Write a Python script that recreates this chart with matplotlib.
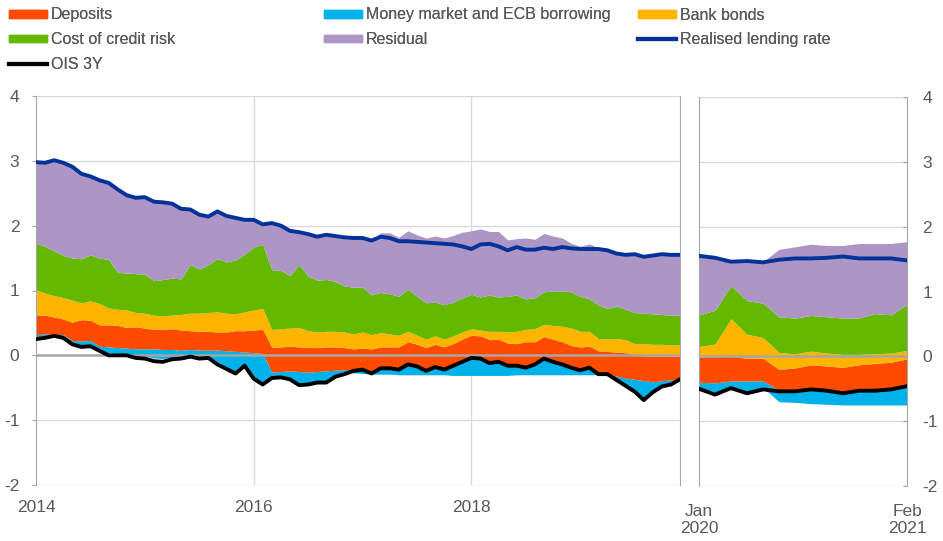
import numpy as np
import matplotlib
matplotlib.use("Agg")
import matplotlib.pyplot as plt
from matplotlib.patches import Patch
from matplotlib.lines import Line2D

plt.rcParams["font.family"] = ["Liberation Sans", "DejaVu Sans"]
plt.rcParams["axes.unicode_minus"] = False

# --- monthly data, Jan 2014 - Dec 2019 (left panel) ---
# the stack starts from stack_floor and the components are piled on top in this order:
# money market, deposits, bank bonds, cost of credit risk, residual
stack_floor = [0.28, 0.29, 0.30, 0.30, 0.17, 0.15, 0.15, 0.07, 0.04, 0.03, 0.02, 0.00,
               -0.01, -0.04, -0.05, -0.03, -0.02, 0.00, -0.02, -0.01, -0.10, -0.18, -0.25, -0.13,
               -0.33, -0.42, -0.32, -0.31, -0.34, -0.43, -0.42, -0.39, -0.39, -0.30, -0.27, -0.27,
               -0.28, -0.29, -0.29, -0.29, -0.30, -0.30, -0.30, -0.30, -0.30, -0.30, -0.31, -0.31,
               -0.31, -0.31, -0.31, -0.31, -0.31, -0.30, -0.30, -0.30, -0.30, -0.30, -0.30, -0.30,
               -0.30, -0.30, -0.30, -0.30, -0.36, -0.45, -0.54, -0.67, -0.55, -0.46, -0.43, -0.38]
money_market = [0.04, 0.04, 0.02, 0.02, 0.06, 0.07, 0.08, 0.07, 0.09, 0.09, 0.09, 0.10,
                0.11, 0.14, 0.14, 0.12, 0.10, 0.09, 0.10, 0.09, 0.18, 0.25, 0.31, 0.18,
                0.37, 0.45, 0.06, 0.06, 0.10, 0.18, 0.16, 0.14, 0.15, 0.07, 0.05, 0.05,
                0.06, 0.05, 0.10, 0.09, 0.08, 0.15, 0.12, 0.07, 0.12, 0.09, 0.15, 0.22,
                0.27, 0.26, 0.20, 0.21, 0.16, 0.15, 0.13, 0.16, 0.24, 0.20, 0.16, 0.11,
                0.07, 0.11, 0.02, 0.02, 0.04, 0.10, 0.17, 0.28, 0.14, 0.07, 0.05, 0.01]
deposits = [0.30, 0.29, 0.27, 0.24, 0.28, 0.33, 0.31, 0.33, 0.34, 0.34, 0.32, 0.34,
            0.32, 0.30, 0.31, 0.32, 0.31, 0.29, 0.29, 0.29, 0.28, 0.29, 0.32, 0.33,
            0.35, 0.37, 0.38, 0.38, 0.38, 0.38, 0.38, 0.37, 0.37, 0.36, 0.34, 0.32,
            0.33, 0.34, 0.32, 0.33, 0.35, 0.36, 0.35, 0.35, 0.35, 0.34, 0.34, 0.34,
            0.35, 0.35, 0.35, 0.35, 0.34, 0.33, 0.38, 0.35, 0.35, 0.35, 0.35, 0.34,
            0.36, 0.33, 0.35, 0.34, 0.37, 0.39, 0.38, 0.38, 0.40, 0.38, 0.37, 0.36]
bank_bonds = [0.39, 0.34, 0.33, 0.33, 0.34, 0.26, 0.30, 0.33, 0.26, 0.25, 0.27, 0.22,
              0.23, 0.22, 0.21, 0.21, 0.24, 0.27, 0.28, 0.29, 0.31, 0.29, 0.26, 0.29,
              0.31, 0.32, 0.28, 0.28, 0.28, 0.30, 0.26, 0.24, 0.24, 0.24, 0.24, 0.23,
              0.25, 0.22, 0.22, 0.20, 0.18, 0.16, 0.14, 0.13, 0.13, 0.12, 0.12, 0.11,
              0.10, 0.09, 0.13, 0.12, 0.17, 0.19, 0.19, 0.20, 0.19, 0.21, 0.24, 0.27,
              0.24, 0.23, 0.19, 0.19, 0.21, 0.20, 0.17, 0.19, 0.18, 0.18, 0.17, 0.17]
credit_risk = [0.72, 0.72, 0.69, 0.65, 0.65, 0.68, 0.71, 0.70, 0.75, 0.57, 0.57, 0.60,
               0.60, 0.53, 0.56, 0.57, 0.55, 0.75, 0.68, 0.74, 0.82, 0.79, 0.83, 0.89,
               0.97, 0.99, 0.92, 0.90, 0.81, 0.97, 0.84, 0.80, 0.80, 0.77, 0.71, 0.72,
               0.69, 0.61, 0.62, 0.62, 0.60, 0.65, 0.60, 0.56, 0.52, 0.53, 0.52, 0.53,
               0.53, 0.51, 0.56, 0.53, 0.55, 0.56, 0.47, 0.48, 0.50, 0.53, 0.54, 0.56,
               0.54, 0.50, 0.52, 0.47, 0.50, 0.47, 0.48, 0.47, 0.47, 0.46, 0.46, 0.46]
residual = [1.25, 1.29, 1.40, 1.43, 1.41, 1.31, 1.21, 1.20, 1.18, 1.28, 1.20, 1.17,
            1.19, 1.22, 1.19, 1.15, 1.08, 0.85, 0.84, 0.74, 0.73, 0.71, 0.65, 0.53,
            0.42, 0.31, 0.72, 0.69, 0.69, 0.50, 0.65, 0.67, 0.69, 0.70, 0.75, 0.76,
            0.76, 0.84, 0.92, 0.94, 0.91, 0.90, 0.95, 1.00, 1.02, 1.03, 1.03, 1.01,
            0.98, 1.05, 0.98, 1.01, 0.87, 0.87, 0.94, 0.90, 0.90, 0.85, 0.82, 0.75,
            0.77, 0.85, 0.88, 0.90, 0.81, 0.84, 0.90, 0.87, 0.90, 0.93, 0.93, 0.93]
lending_rate = [2.98, 2.97, 3.01, 2.97, 2.91, 2.80, 2.76, 2.70, 2.66, 2.56, 2.47, 2.43,
                2.44, 2.37, 2.36, 2.34, 2.26, 2.25, 2.17, 2.14, 2.22, 2.15, 2.12, 2.09,
                2.09, 2.02, 2.04, 2.00, 1.92, 1.90, 1.87, 1.83, 1.86, 1.84, 1.82, 1.81,
                1.81, 1.77, 1.83, 1.81, 1.76, 1.76, 1.75, 1.74, 1.73, 1.72, 1.71, 1.68,
                1.64, 1.71, 1.72, 1.68, 1.62, 1.67, 1.63, 1.63, 1.66, 1.64, 1.67, 1.65,
                1.64, 1.64, 1.64, 1.62, 1.57, 1.55, 1.56, 1.52, 1.54, 1.56, 1.55, 1.55]
ois_3y = [0.25, 0.27, 0.30, 0.27, 0.17, 0.13, 0.14, 0.07, 0.00, 0.00, 0.00, -0.04,
          -0.05, -0.09, -0.10, -0.06, -0.05, -0.02, -0.05, -0.04, -0.14, -0.21, -0.28, -0.16,
          -0.36, -0.45, -0.35, -0.34, -0.37, -0.46, -0.45, -0.42, -0.42, -0.33, -0.29, -0.24,
          -0.22, -0.28, -0.20, -0.20, -0.22, -0.14, -0.17, -0.24, -0.18, -0.22, -0.16, -0.10,
          -0.04, -0.05, -0.12, -0.10, -0.16, -0.16, -0.19, -0.14, -0.05, -0.10, -0.14, -0.19,
          -0.23, -0.19, -0.29, -0.29, -0.38, -0.47, -0.56, -0.69, -0.57, -0.48, -0.45, -0.37]

# --- monthly data, Jan 2020 - Feb 2021 (right panel) ---
stack_floor_20 = [-0.47, -0.55, -0.46, -0.54, -0.48, -0.70, -0.71, -0.73, -0.74, -0.75, -0.75, -0.75, -0.75, -0.75]
money_market_20 = [0.07, 0.14, 0.08, 0.16, 0.10, 0.18, 0.18, 0.23, 0.21, 0.20, 0.22, 0.22, 0.23, 0.29]
deposits_20 = [0.39, 0.40, 0.38, 0.35, 0.35, 0.32, 0.35, 0.37, 0.38, 0.38, 0.40, 0.42, 0.43, 0.42]
bank_bonds_20 = [0.16, 0.20, 0.58, 0.37, 0.32, 0.26, 0.22, 0.21, 0.20, 0.20, 0.16, 0.15, 0.14, 0.13]
credit_risk_20 = [0.49, 0.52, 0.51, 0.52, 0.53, 0.55, 0.55, 0.55, 0.56, 0.56, 0.56, 0.62, 0.59, 0.71]
residual_20 = [0.91, 0.81, 0.37, 0.61, 0.64, 1.04, 1.10, 1.10, 1.10, 1.12, 1.15, 1.08, 1.10, 0.97]
lending_rate_20 = [1.55, 1.52, 1.46, 1.47, 1.45, 1.49, 1.51, 1.51, 1.52, 1.54, 1.51, 1.51, 1.51, 1.48]
ois_3y_20 = [-0.50, -0.59, -0.49, -0.57, -0.51, -0.54, -0.54, -0.51, -0.53, -0.57, -0.53, -0.53, -0.51, -0.46]

left_ticks = [0, 24, 48]
left_ticklabels = ["2014", "2016", "2018"]
right_ticks = [0, 13]
right_ticklabels = ["Jan\n2020", "Feb\n2021"]

# colours
c_dep = "#FF4B00"
c_mm = "#00B1EA"
c_bonds = "#FFB400"
c_credit = "#65B800"
c_resid = "#AD95C6"
c_rate = "#003299"
c_ois = "#000000"
grid_col = "#D9D9D9"
axis_col = "#A6A6A6"
text_col = "#595959"


def draw_panel(ax, floor, layers, rate, ois):
    x = np.arange(len(floor))
    lower = np.array(floor, dtype=float)
    for values, col in layers:
        upper = lower + np.array(values)
        ax.fill_between(x, lower, upper, color=col, lw=0, zorder=2)
        lower = upper
    ax.axhline(0, color=axis_col, lw=1.8, zorder=3)
    ax.plot(x, rate, color=c_rate, lw=2.8, zorder=4, solid_joinstyle="round")
    ax.plot(x, ois, color=c_ois, lw=2.8, zorder=4, solid_joinstyle="round")
    ax.set_ylim(-2, 4)
    ax.set_yticks(range(-2, 5))
    ax.set_xlim(0, len(floor) - 1)
    ax.yaxis.grid(True, color=grid_col, lw=1)
    ax.set_axisbelow(True)
    for side in ["top", "bottom"]:
        ax.spines[side].set_visible(False)
    for side in ["left", "right"]:
        ax.spines[side].set_color(axis_col)
    ax.tick_params(axis="x", length=0, labelsize=12.5, labelcolor=text_col)
    ax.tick_params(axis="y", length=3, color=axis_col, labelsize=12.5, labelcolor=text_col)


fig = plt.figure(figsize=(9.43, 5.41), dpi=100)
ax1 = fig.add_axes([36 / 943, 56 / 541, 644 / 943, 389 / 541])
ax2 = fig.add_axes([699 / 943, 55 / 541, 208 / 943, 389 / 541])

draw_panel(ax1, stack_floor,
           [(money_market, c_mm), (deposits, c_dep), (bank_bonds, c_bonds),
            (credit_risk, c_credit), (residual, c_resid)],
           lending_rate, ois_3y)
draw_panel(ax2, stack_floor_20,
           [(money_market_20, c_mm), (deposits_20, c_dep), (bank_bonds_20, c_bonds),
            (credit_risk_20, c_credit), (residual_20, c_resid)],
           lending_rate_20, ois_3y_20)

for t in left_ticks[1:]:
    ax1.axvline(t, color=grid_col, lw=1, zorder=0)

ax1.set_xticks(left_ticks)
ax1.set_xticklabels(left_ticklabels)
ax1.tick_params(axis="x", pad=11)
ax1.tick_params(axis="y", pad=9)

ax2.set_xticks(right_ticks)
ax2.set_xticklabels(right_ticklabels, linespacing=1.15)
ax2.tick_params(axis="x", pad=13)
ax2.yaxis.tick_right()
ax2.tick_params(axis="y", direction="in", pad=11)

# legend, three columns placed separately
leg_kw = dict(frameon=False, fontsize=11.5, handlelength=2.4, handleheight=0.35,
              handletextpad=0.2, labelspacing=0.6, borderpad=0, borderaxespad=0,
              loc="upper left", labelcolor=text_col)
col1 = [Patch(color=c_dep, label="Deposits"),
        Patch(color=c_credit, label="Cost of credit risk"),
        Line2D([], [], color=c_ois, lw=3, label="OIS 3Y")]
col2 = [Patch(color=c_mm, label="Money market and ECB borrowing"),
        Patch(color=c_resid, label="Residual")]
col3 = [Patch(color=c_bonds, label="Bank bonds"),
        Line2D([], [], color=c_rate, lw=3, label="Realised lending rate")]
for handles, xpos in [(col1, 9), (col2, 324), (col3, 638)]:
    leg = fig.legend(handles=handles, bbox_to_anchor=(xpos / 943, 1 - 7.5 / 541), **leg_kw)
    fig.add_artist(leg)

fig.savefig("out.png", dpi=100)
